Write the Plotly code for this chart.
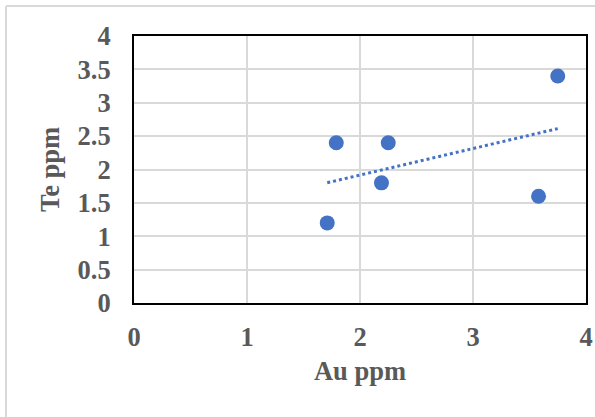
import numpy as np
import plotly.graph_objects as go

au_ppm = [1.71, 1.79, 2.19, 2.25, 3.58, 3.75]
te_ppm = [1.2, 2.4, 1.8, 2.4, 1.6, 3.4]
x_ticks = [0, 1, 2, 3, 4]
y_ticks = [0, 0.5, 1, 1.5, 2, 2.5, 3, 3.5, 4]

blue = "#4472C4"
grey_txt = "#595959"
font_family = "Liberation Serif"

slope, intercept = np.polyfit(au_ppm, te_ppm, 1)
tx = np.array([min(au_ppm), max(au_ppm)])
ty = slope * tx + intercept

fig = go.Figure()
fig.add_trace(go.Scatter(x=tx, y=ty, mode="lines",
                         line=dict(color=blue, width=3, dash="dot"),
                         hoverinfo="skip", showlegend=False))
fig.add_trace(go.Scatter(x=au_ppm, y=te_ppm, mode="markers",
                         marker=dict(color=blue, size=15, line=dict(width=0)),
                         showlegend=False, cliponaxis=False))

W, H = 595, 417
L, R, T, B = 134, 9, 36, 114
pw, ph = W - L - R, H - T - B

def px_to_paper_x(px):
    return (px - L) / pw

def px_to_paper_y(py):
    return (H - B - py) / ph

border = dict(color="#d9d9d9", width=2)
fig.add_shape(type="line", xref="paper", yref="paper",
              x0=px_to_paper_x(6), x1=px_to_paper_x(6),
              y0=px_to_paper_y(420), y1=px_to_paper_y(6), line=border, layer="below")
fig.add_shape(type="line", xref="paper", yref="paper",
              x0=px_to_paper_x(6), x1=px_to_paper_x(600),
              y0=px_to_paper_y(6), y1=px_to_paper_y(6), line=border, layer="below")

axis_font = dict(family=font_family, size=26.5, color=grey_txt)
fig.update_layout(
    width=W, height=H,
    margin=dict(l=L, r=R, t=T, b=B, autoexpand=False),
    paper_bgcolor="white", plot_bgcolor="white",
    font=dict(family=font_family),
    xaxis=dict(range=[0, 4], tickvals=x_ticks, ticktext=[str(v) for v in x_ticks],
               showgrid=True, gridcolor="#d9d9d9", gridwidth=1.5,
               showline=True, linecolor="black", linewidth=2, mirror=True,
               zeroline=False, ticks="", tickfont=dict(**axis_font, weight="bold"),
               ticklabelstandoff=9, automargin=False,
               title=dict(text="<b>Au ppm</b>", font=axis_font, standoff=11)),
    yaxis=dict(range=[0, 4], tickvals=y_ticks, ticktext=[f"{v:g}" for v in y_ticks],
               showgrid=True, gridcolor="#d9d9d9", gridwidth=1.5,
               showline=True, linecolor="black", linewidth=2, mirror=True,
               zeroline=False, ticks="", tickfont=dict(**axis_font, weight="bold"),
               ticklabelstandoff=16, automargin=False,
               title=dict(text="<b>Te ppm</b>", font=axis_font, standoff=10)),
)

fig.write_html("out.html")
